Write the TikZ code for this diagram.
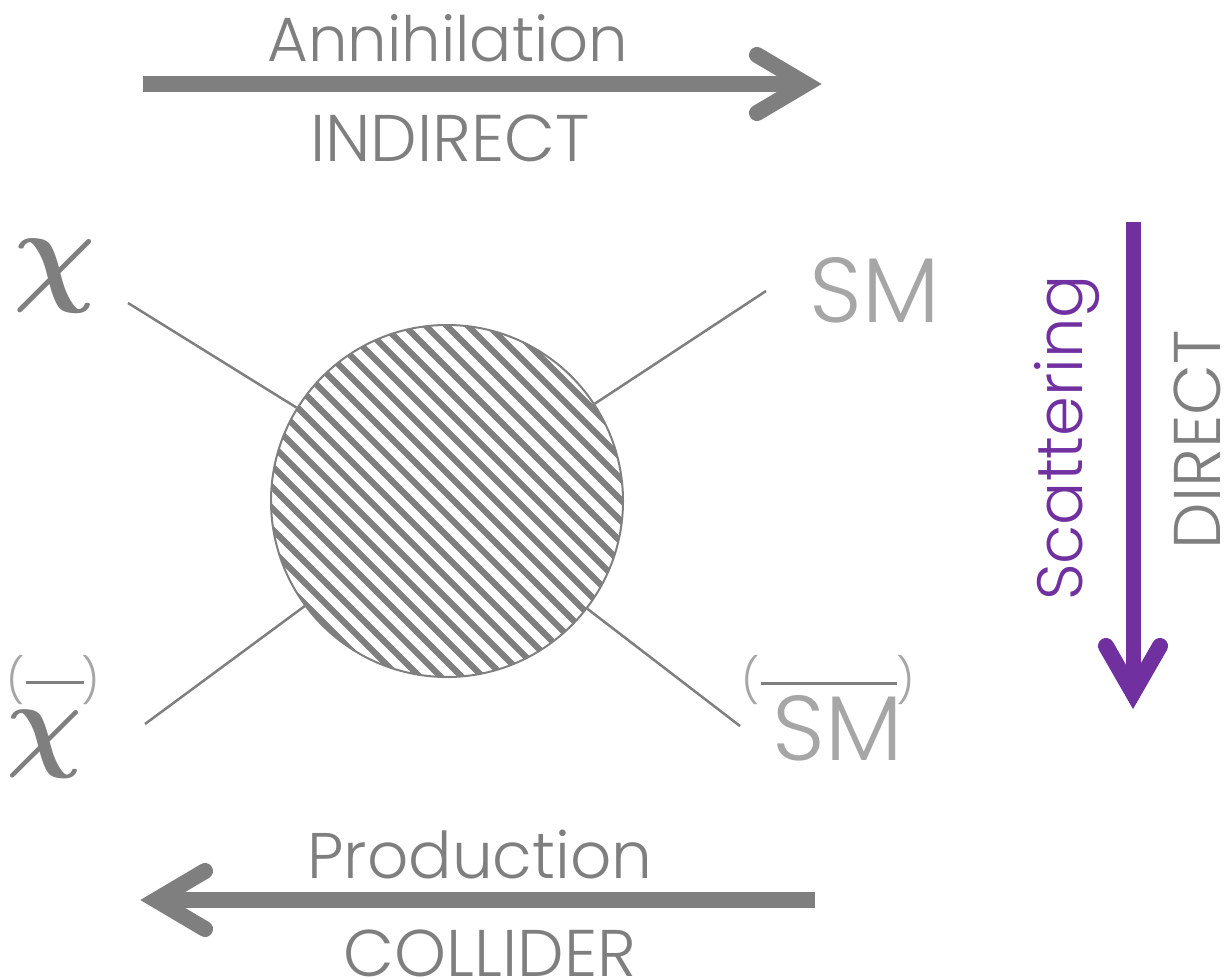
\documentclass[tikz,border=0pt]{standalone}
\usepackage{bm}
\usepackage{graphicx}
\usepackage{fontspec}
\usetikzlibrary{calc}
\setmainfont{Poppins Light}
\definecolor{g}{HTML}{7F7F7F}
\definecolor{lg}{HTML}{A6A6A6}
\definecolor{pur}{HTML}{7030A0}
\tikzset{
  txt/.style={inner sep=0pt, anchor=base, text=g},
  leg/.style={draw=g, line width=2.5pt},
  shaft/.style={line width=16pt},
  head/.style={line width=16pt, line cap=round, line join=miter},
  chi/.style={inner sep=0pt, text=g},
  par/.style={inner sep=0pt, text=lg, font=\fontsize{44}{44}\selectfont},
}
\begin{document}
\begin{tikzpicture}[x=1pt,y=-1pt]
\useasboundingbox (0,0) rectangle (1224,979);
% top arrow
\coordinate (t1) at (143,84);
\coordinate (t2) at (800,84);
\draw[g, shaft] (t1) -- (t2);
\draw[g, head] (757,55) -- (806,84) -- (757,113);
\node[txt, font=\fontsize{62.5}{62.5}\selectfont] (ann) at (448,62) {Annihilation};
\node[txt, font=\fontsize{66}{66}\selectfont] (ind) at (450,162) {INDIRECT};
% bottom arrow
\coordinate (b1) at (815,900);
\coordinate (b2) at (160,900);
\draw[g, shaft] (b1) -- (b2);
\draw[g, head] (205,871) -- (156,900) -- (205,929);
\node[txt, font=\fontsize{64.5}{64.5}\selectfont] (prod) at (480,878) {Production};
\node[txt, font=\fontsize{66}{66}\selectfont] (col) at (490,976) {COLLIDER};
% vertical arrow
\coordinate (v1) at (1133,222);
\coordinate (v2) at (1133,690);
\draw[pur, line width=15pt] (v1) -- (v2);
\draw[pur, head] (1106,646) -- (1133,693) -- (1160,646);
\node[inner sep=0pt, anchor=base, text=pur, rotate=90, font=\fontsize{64}{64}\selectfont] (sc) at (1082,438) {Scattering};
\node[txt, rotate=90, font=\fontsize{66}{66}\selectfont] (dir) at (1220,440) {DIRECT};
% blob
\coordinate (c) at (447,501);
\begin{scope}
\clip (c) circle (176);
\foreach \k in {-560,-539,...,560}
  \draw[g, line width=6.3pt] ($(c)+(-300,-300)+(\k/2,-\k/2)$) -- ($(c)+(300,300)+(\k/2,-\k/2)$);
\end{scope}
\node[circle, draw=g, line width=2pt, minimum size=352pt, inner sep=0pt] (blob) at (c) {};
% legs
\coordinate (ul) at (128,303);
\coordinate (ur) at (766,291);
\coordinate (ll) at (145,724);
\coordinate (lr) at (740,726);
\draw[leg] (ul) -- (blob);
\draw[leg] (ur) -- (blob);
\draw[leg] (ll) -- (blob);
\draw[leg] (lr) -- (blob);
% labels
\node[chi] (chi1) at (55,276) {\scalebox{11.5}{$\bm{\chi}$}};
\node[chi] (chi2) at (45,744) {\scalebox{10.6}{$\bm{\chi}$}};
\draw[g, line width=3pt] (26,682) -- (84,682);
\node[par] (p1) at (16,680) {(};
\node[par] (p2) at (91,680) {)};
\node[inner sep=0pt, anchor=base, text=lg, font=\fontsize{92}{92}\selectfont] (sm1) at (875,322) {SM};
\node[inner sep=0pt, anchor=base, text=lg, font=\fontsize{92}{92}\selectfont] (sm2) at (838,760) {SM};
\draw[g, line width=3pt] (761,683) -- (897,683);
\node[par] (p3) at (751,680) {(};
\node[par] (p4) at (906,680) {)};
\end{tikzpicture}
\end{document}
